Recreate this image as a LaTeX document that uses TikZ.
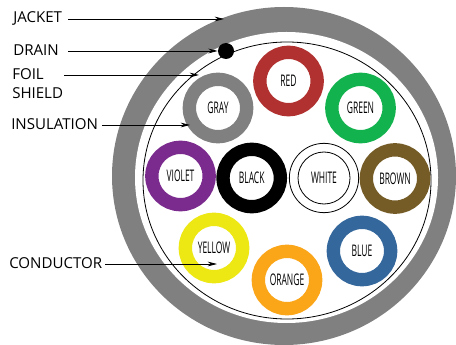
\documentclass[tikz,border=0pt]{standalone}
\usepackage{fontspec}
\usetikzlibrary{arrows.meta}
\setmainfont{Open Sans}
\definecolor{jacketgray}{HTML}{808080}
\definecolor{wirered}{HTML}{B0312F}
\definecolor{wiregreen}{HTML}{12B24E}
\definecolor{wireviolet}{HTML}{7B2A8E}
\definecolor{wirebrown}{HTML}{755C26}
\definecolor{wireyellow}{HTML}{EDE813}
\definecolor{wireorange}{HTML}{FBA518}
\definecolor{wireblue}{HTML}{34679C}
\newcommand{\wirename}[1]{\scalebox{.53}[1]{\fontsize{12}{12}\selectfont #1}}
\tikzset{
  wire/.style={circle, draw=#1, line width=10pt, minimum size=43pt, inner sep=0pt, fill=white},
  lead/.style={font=\fontsize{11.3}{14}\selectfont, inner sep=0pt, anchor=west, align=left},
  arrow/.style={-{Stealth[length=7pt,width=3.5pt]}, line width=.6pt},
}
\begin{document}
\begin{tikzpicture}[x=.75pt,y=-.75pt]
\useasboundingbox (0,0) rectangle (456,345);
\clip (0,0) rectangle (456,345);
\fill [jacketgray] (284,176) ellipse (172 and 169);
\fill [white] (286.5,177.5) ellipse (151.5 and 145.5);
\draw [line width=.6pt] (287,180.5) ellipse (144 and 138.5);
\node [circle, fill=black, minimum size=12pt, inner sep=0pt] (drain) at (226,51) {};

\node [wire=jacketgray] (gray) at (218,108) {\wirename{GRAY}};
\node [wire=wirered] (red) at (288.5,81) {\wirename{RED}};
\node [wire=wiregreen] (green) at (360.5,108) {\wirename{GREEN}};
\node [wire=wireviolet] (violet) at (180.5,176) {\wirename{VIOLET}};
\node [wire=black] (black) at (251.7,178) {\wirename{BLACK}};
\node [circle, draw, line width=.6pt, minimum size=52pt, inner sep=0pt] (white) at (324,178) {};
\node [circle, draw, line width=.6pt, minimum size=39pt, inner sep=0pt] at (white) {\wirename{WHITE}};
\node [wire=wirebrown] (brown) at (395,178.5) {\wirename{BROWN}};
\node [wire=wireyellow] (yellow) at (214,248) {\wirename{YELLOW}};
\node [wire=wireorange] (orange) at (287,280) {\wirename{ORANGE}};
\node [wire=wireblue] (blue) at (362,251) {\wirename{BLUE}};

\node [lead] (jacket) at (13,18) {JACKET};
\node [lead] (drainlabel) at (13,50) {DRAIN};
\node [lead] (foil) at (12,83.5) {FOIL\\SHIELD};
\node [lead] (insulation) at (11,124) {INSULATION};
\node [lead] (conductor) at (9,263) {CONDUCTOR};

\coordinate (jacketstart) at (68,19);
\coordinate (jacketend) at (224,19);
\coordinate (drainstart) at (68,51);
\coordinate (foilstart) at (64,75);
\coordinate (foilend) at (199,75);
\coordinate (insulationend) at (190,125);
\coordinate (conductorend) at (217,264);
\draw [arrow] (jacketstart) -- (jacketend);
\draw [arrow] (drainstart) -- (drain.west);
\draw [arrow] (foilstart) -- (foilend);
\draw [arrow] (insulation.east) ++(4,1) -- (insulationend);
\draw [arrow] (conductor.east) ++(3,1) -- (conductorend);
\end{tikzpicture}
\end{document}
